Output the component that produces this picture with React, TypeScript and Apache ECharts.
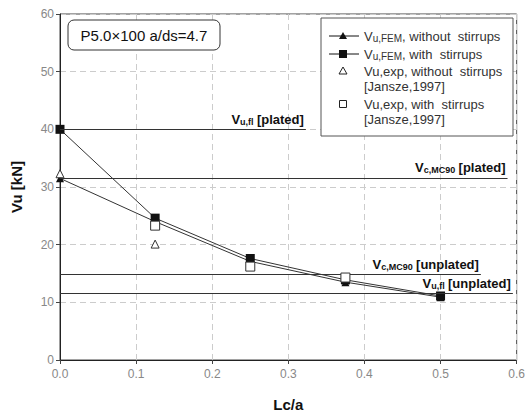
import React, { useEffect, useRef } from "react";
import * as echarts from "echarts";

const lcA = [0, 0.125, 0.25, 0.375, 0.5];
const femWithout = [31.5, 24.0, 17.1, 13.5, 10.9];
const femWith = [40.0, 24.6, 17.6, 13.9, 11.1];
const expWithoutX = [0, 0.125];
const expWithout = [32.3, 20.1];
const expWithX = [0.125, 0.25, 0.375];
const expWith = [23.3, 16.2, 14.3];

const refLabels = [
  "{v|V}{s|u,fl} {t|[plated]}",
  "{v|V}{s|c,MC90} {t|[plated]}",
  "{v|V}{s|c,MC90} {t|[unplated]}",
  "{v|V}{s|u,fl} {t|[unplated]}",
];
const refValues = [40, 31.6, 14.9, 11.6];
const refEnds = [0.323, 0.588, 0.553, 0.595];

const legendTexts = [
  ["V{s|u,FEM}, without  stirrups"],
  ["V{s|u,FEM}, with  stirrups"],
  ["Vu,exp, without  stirrups", "[Jansze,1997]"],
  ["Vu,exp, with  stirrups", "[Jansze,1997]"],
];

const FONT = "Liberation Sans, Arial, sans-serif";

export default function App() {
  const ref = useRef<HTMLDivElement>(null);
  useEffect(() => {
    if (!ref.current) return;
    const chart = echarts.init(ref.current, null, { renderer: "svg" });
    const pair = (xs: number[], ys: number[]) => xs.map((x, i) => [x, ys[i]]);

    const markData = refValues.map((v, i) => [
      { coord: [0, v], label: { formatter: refLabels[i] } },
      { coord: [refEnds[i], v] },
    ]);

    const legendGraphics: any[] = [];
    const lx = 321, ly = 18;
    legendGraphics.push({
      type: "rect",
      shape: { x: lx, y: ly, width: 192, height: 118 },
      style: { fill: "#fff", stroke: "#555", lineWidth: 1 },
      z: 100,
    });
    const rowsY = [36, 54, 71, 104];
    const iconX = 343;
    legendGraphics.push({ type: "line", shape: { x1: 329, y1: rowsY[0], x2: 359, y2: rowsY[0] }, style: { stroke: "#111", lineWidth: 1 }, z: 101 });
    legendGraphics.push({ type: "polygon", shape: { points: [[iconX, rowsY[0] - 4], [iconX - 4, rowsY[0] + 3], [iconX + 4, rowsY[0] + 3]] }, style: { fill: "#111" }, z: 101 });
    legendGraphics.push({ type: "line", shape: { x1: 329, y1: rowsY[1], x2: 359, y2: rowsY[1] }, style: { stroke: "#111", lineWidth: 1 }, z: 101 });
    legendGraphics.push({ type: "rect", shape: { x: iconX - 4, y: rowsY[1] - 4, width: 8, height: 8 }, style: { fill: "#111" }, z: 101 });
    legendGraphics.push({ type: "polygon", shape: { points: [[iconX, rowsY[2] - 4], [iconX - 4, rowsY[2] + 3], [iconX + 4, rowsY[2] + 3]] }, style: { fill: "#fff", stroke: "#222", lineWidth: 1 }, z: 101 });
    legendGraphics.push({ type: "rect", shape: { x: iconX - 3.5, y: rowsY[3] - 3.5, width: 7, height: 7 }, style: { fill: "#fff", stroke: "#222", lineWidth: 1 }, z: 101 });
    legendTexts.forEach((lines, i) => {
      lines.forEach((t, j) => {
        legendGraphics.push({
          type: "text",
          x: 364,
          y: rowsY[i] + j * 15,
          z: 101,
          style: {
            text: t,
            fill: "#333",
            font: `13px ${FONT}`,
            verticalAlign: "middle",
            rich: { s: { fontSize: 10, fill: "#333", fontFamily: FONT, verticalAlign: "bottom", padding: [4, 0, 0, 0] } },
          },
        });
      });
    });

    const option: any = {
      animation: false,
      backgroundColor: "#fff",
      grid: { left: 60, right: 9, top: 14, bottom: 56, show: true, borderColor: "#444", borderWidth: 1 },
      xAxis: {
        type: "value",
        min: 0,
        max: 0.6,
        interval: 0.1,
        name: "Lc/a",
        nameLocation: "middle",
        nameGap: 37,
        nameTextStyle: { fontFamily: FONT, fontSize: 15, fontWeight: "bold", color: "#111" },
        axisLine: { show: true, lineStyle: { color: "#222" } },
        axisTick: { show: true, length: 4, lineStyle: { color: "#444" } },
        axisLabel: { color: "#888", fontFamily: FONT, fontSize: 12, margin: 8, formatter: (v: number) => v.toFixed(1) },
        splitLine: { show: true, lineStyle: { color: "#ccc", type: [6, 4] } },
      },
      yAxis: {
        type: "value",
        min: 0,
        max: 60,
        interval: 10,
        name: "Vu [kN]",
        nameLocation: "middle",
        nameGap: 36,
        nameTextStyle: { fontFamily: FONT, fontSize: 15, fontWeight: "bold", color: "#111" },
        axisLine: { show: true, lineStyle: { color: "#222" } },
        axisTick: { show: true, length: 4, lineStyle: { color: "#444" } },
        axisLabel: { color: "#888", fontFamily: FONT, fontSize: 12, margin: 6 },
        splitLine: { show: true, lineStyle: { color: "#ccc", type: [6, 4] } },
      },
      series: [
        {
          name: "refs",
          type: "line",
          data: [],
          silent: true,
          markLine: {
            silent: true,
            symbol: ["none", "none"],
            lineStyle: { color: "#333", width: 1.2, type: "solid" },
            label: {
              show: true,
              position: "insideEndTop",
              distance: [2, 3],
              color: "#111",
              rich: {
                v: { fontFamily: FONT, fontSize: 13, fontWeight: "bold", color: "#111" },
                s: { fontFamily: FONT, fontSize: 9, fontWeight: "bold", color: "#111", verticalAlign: "bottom", padding: [5, 0, 0, 0] },
                t: { fontFamily: FONT, fontSize: 13, fontWeight: "bold", color: "#111" },
              },
            },
            data: markData,
          },
        },
        {
          name: "Vu,FEM, without stirrups",
          type: "line",
          data: pair(lcA, femWithout),
          symbol: "triangle",
          symbolSize: 8,
          itemStyle: { color: "#111", opacity: 1 },
          lineStyle: { color: "#333", width: 1 },
          z: 3,
        },
        {
          name: "Vu,FEM, with stirrups",
          type: "line",
          data: pair(lcA, femWith),
          symbol: "rect",
          symbolSize: 9,
          itemStyle: { color: "#111", opacity: 1 },
          lineStyle: { color: "#333", width: 1 },
          z: 4,
        },
        {
          name: "Vu,exp, without stirrups",
          type: "scatter",
          data: pair(expWithoutX, expWithout),
          symbol: "triangle",
          symbolSize: 8,
          itemStyle: { color: "#fff", borderColor: "#333", borderWidth: 1, opacity: 1 },
          z: 5,
        },
        {
          name: "Vu,exp, with stirrups",
          type: "scatter",
          data: pair(expWithX, expWith),
          symbol: "rect",
          symbolSize: 9,
          itemStyle: { color: "#fff", borderColor: "#333", borderWidth: 1, opacity: 1 },
          z: 6,
        },
      ],
      graphic: [
        {
          type: "rect",
          shape: { x: 68, y: 20, width: 152, height: 30, r: 6 },
          style: { fill: "#fff", stroke: "#333", lineWidth: 1 },
          z: 100,
        },
        {
          type: "text",
          x: 144,
          y: 35,
          z: 101,
          style: { text: "P5.0×100 a/ds=4.7", fill: "#111", font: `15px ${FONT}`, align: "center", verticalAlign: "middle" },
        },
        ...legendGraphics,
      ],
    };
    chart.setOption(option);
    return () => chart.dispose();
  }, []);
  return <div ref={ref} style={{ width: 528, height: 417, position: "absolute", left: 0, top: 0 }} />;
}
